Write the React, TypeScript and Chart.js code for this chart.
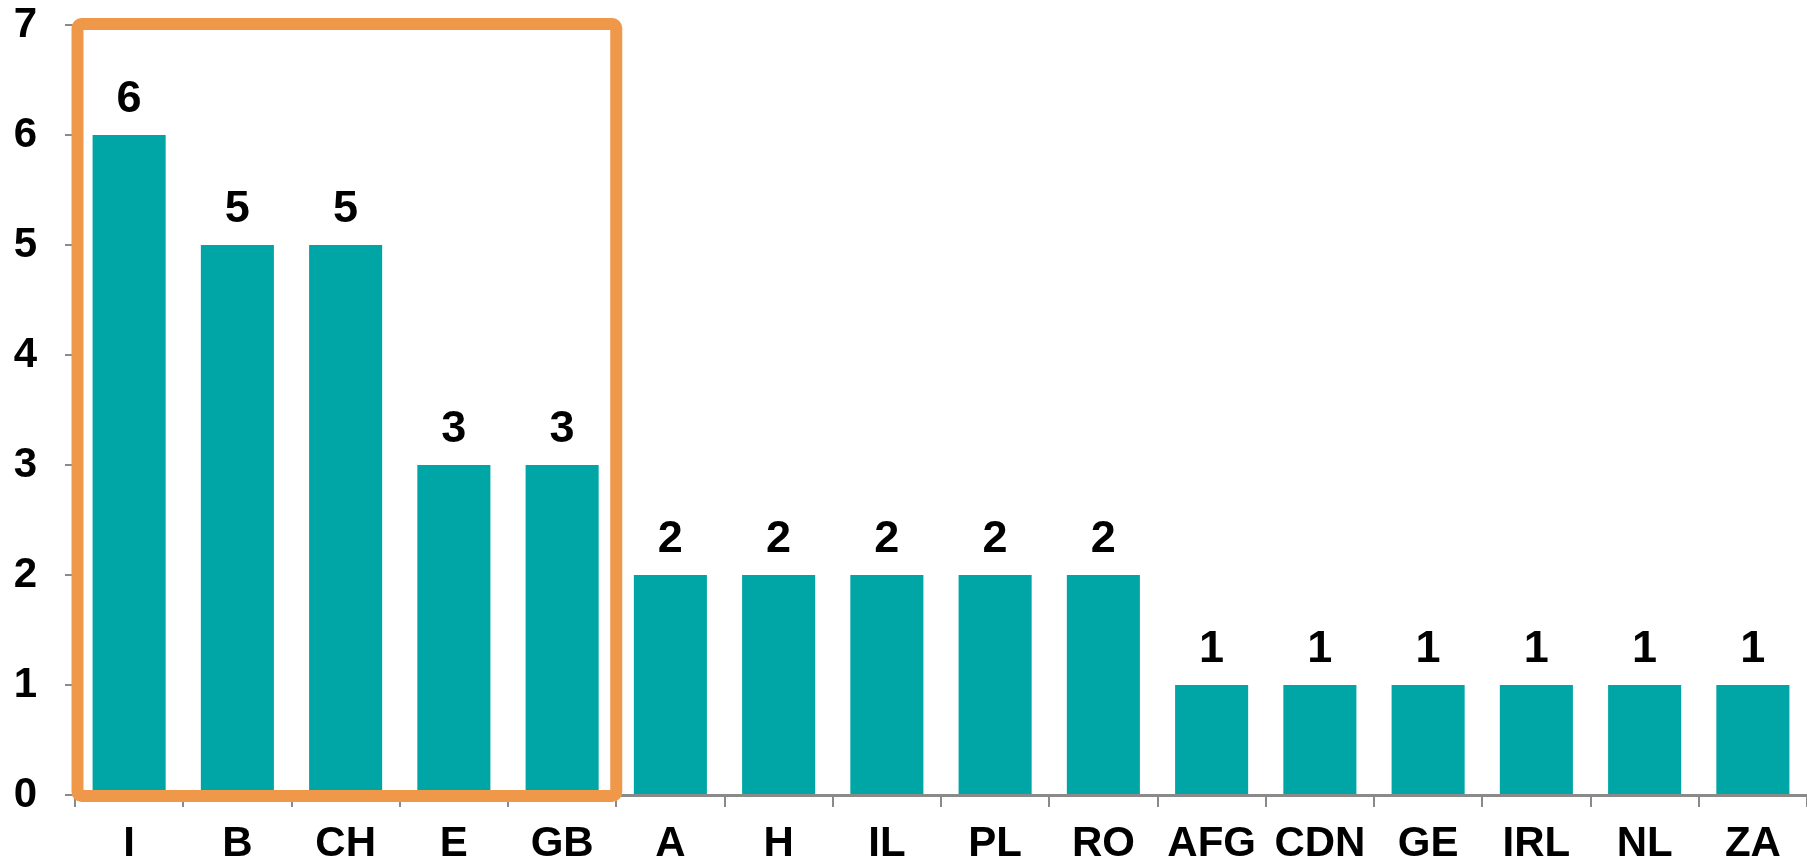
import React, { useEffect, useRef } from "react";
import { Chart, registerables } from "chart.js";

Chart.register(...registerables);

const categories = ["I", "B", "CH", "E", "GB", "A", "H", "IL", "PL", "RO", "AFG", "CDN", "GE", "IRL", "NL", "ZA"];
const values = [6, 5, 5, 3, 3, 2, 2, 2, 2, 2, 1, 1, 1, 1, 1, 1];
const yTicks = [0, 1, 2, 3, 4, 5, 6, 7];
const highlightCount = 5;

const TEAL = "#00A6A6";
const ORANGE = "#F0984A";
const GRAY = "#8A8A8A";
const FONT = "'Liberation Sans', Arial, sans-serif";
const FONT_SIZE = 42;
const LABEL_SIZE = 45;

const labelsPlugin = {
  id: "valueLabels",
  afterDatasetsDraw(chart: any) {
    const ctx = chart.ctx;
    const meta = chart.getDatasetMeta(0);
    ctx.save();
    ctx.font = `bold ${LABEL_SIZE}px ${FONT}`;
    ctx.fillStyle = "#000";
    ctx.textAlign = "center";
    ctx.textBaseline = "alphabetic";
    meta.data.forEach((bar: any, i: number) => {
      ctx.fillText(String(values[i]), bar.x, bar.y - 23);
    });
    ctx.restore();
  },
};

const boxPlugin = {
  id: "highlightBox",
  afterDraw(chart: any) {
    const ctx = chart.ctx;
    const x = chart.scales.x;
    const y = chart.scales.y;
    const half = (x.getPixelForValue(1) - x.getPixelForValue(0)) / 2;
    const left = x.getPixelForValue(0) - half + 2.5;
    const right = x.getPixelForValue(highlightCount - 1) + half;
    const top = y.getPixelForValue(7) - 1;
    const bottom = y.getPixelForValue(0) + 1;
    ctx.save();
    ctx.strokeStyle = ORANGE;
    ctx.lineWidth = 12;
    ctx.lineJoin = "round";
    ctx.beginPath();
    (ctx as any).roundRect(left, top, right - left, bottom - top, 4);
    ctx.stroke();
    ctx.restore();
  },
};

export default function App() {
  const ref = useRef<HTMLCanvasElement | null>(null);
  useEffect(() => {
    document.body.style.margin = "0";
    const chart = new Chart(ref.current as HTMLCanvasElement, {
      type: "bar",
      data: {
        labels: categories,
        datasets: [
          {
            data: values,
            backgroundColor: TEAL,
            categoryPercentage: 1,
            barPercentage: 0.675,
          },
        ],
      },
      options: {
        animation: false,
        responsive: false,
        maintainAspectRatio: false,
        layout: { padding: { top: 25, right: 0, left: 0, bottom: 0 } },
        plugins: { legend: { display: false }, tooltip: { enabled: false } },
        scales: {
          x: {
            grid: { display: true, drawOnChartArea: false, tickLength: 12, color: GRAY, lineWidth: 2 },
            border: { display: true, color: GRAY, width: 3 },
            ticks: {
              color: "#000",
              font: { family: FONT, size: FONT_SIZE, weight: "bold" },
              padding: 12,
              maxRotation: 0,
              autoSkip: false,
            },
            afterFit(scale: any) {
              scale.height = 68;
              scale.paddingLeft = 0;
              scale.paddingRight = 0;
            },
          },
          y: {
            min: 0,
            max: 7,
            afterBuildTicks(scale: any) {
              scale.ticks = yTicks.map((v) => ({ value: v }));
            },
            grid: { display: true, drawOnChartArea: false, tickLength: 10, color: GRAY, lineWidth: 2 },
            border: { display: false },
            ticks: {
              color: "#000",
              font: { family: FONT, size: FONT_SIZE, weight: "bold" },
              padding: 28,
            },
            afterFit(scale: any) {
              scale.width = 75;
              scale.paddingTop = 0;
              scale.paddingBottom = 0;
            },
          },
        },
      },
      plugins: [labelsPlugin, boxPlugin],
    });
    return () => chart.destroy();
  }, []);
  return <canvas ref={ref} width={1807} height={863} style={{ display: "block" }} />;
}
